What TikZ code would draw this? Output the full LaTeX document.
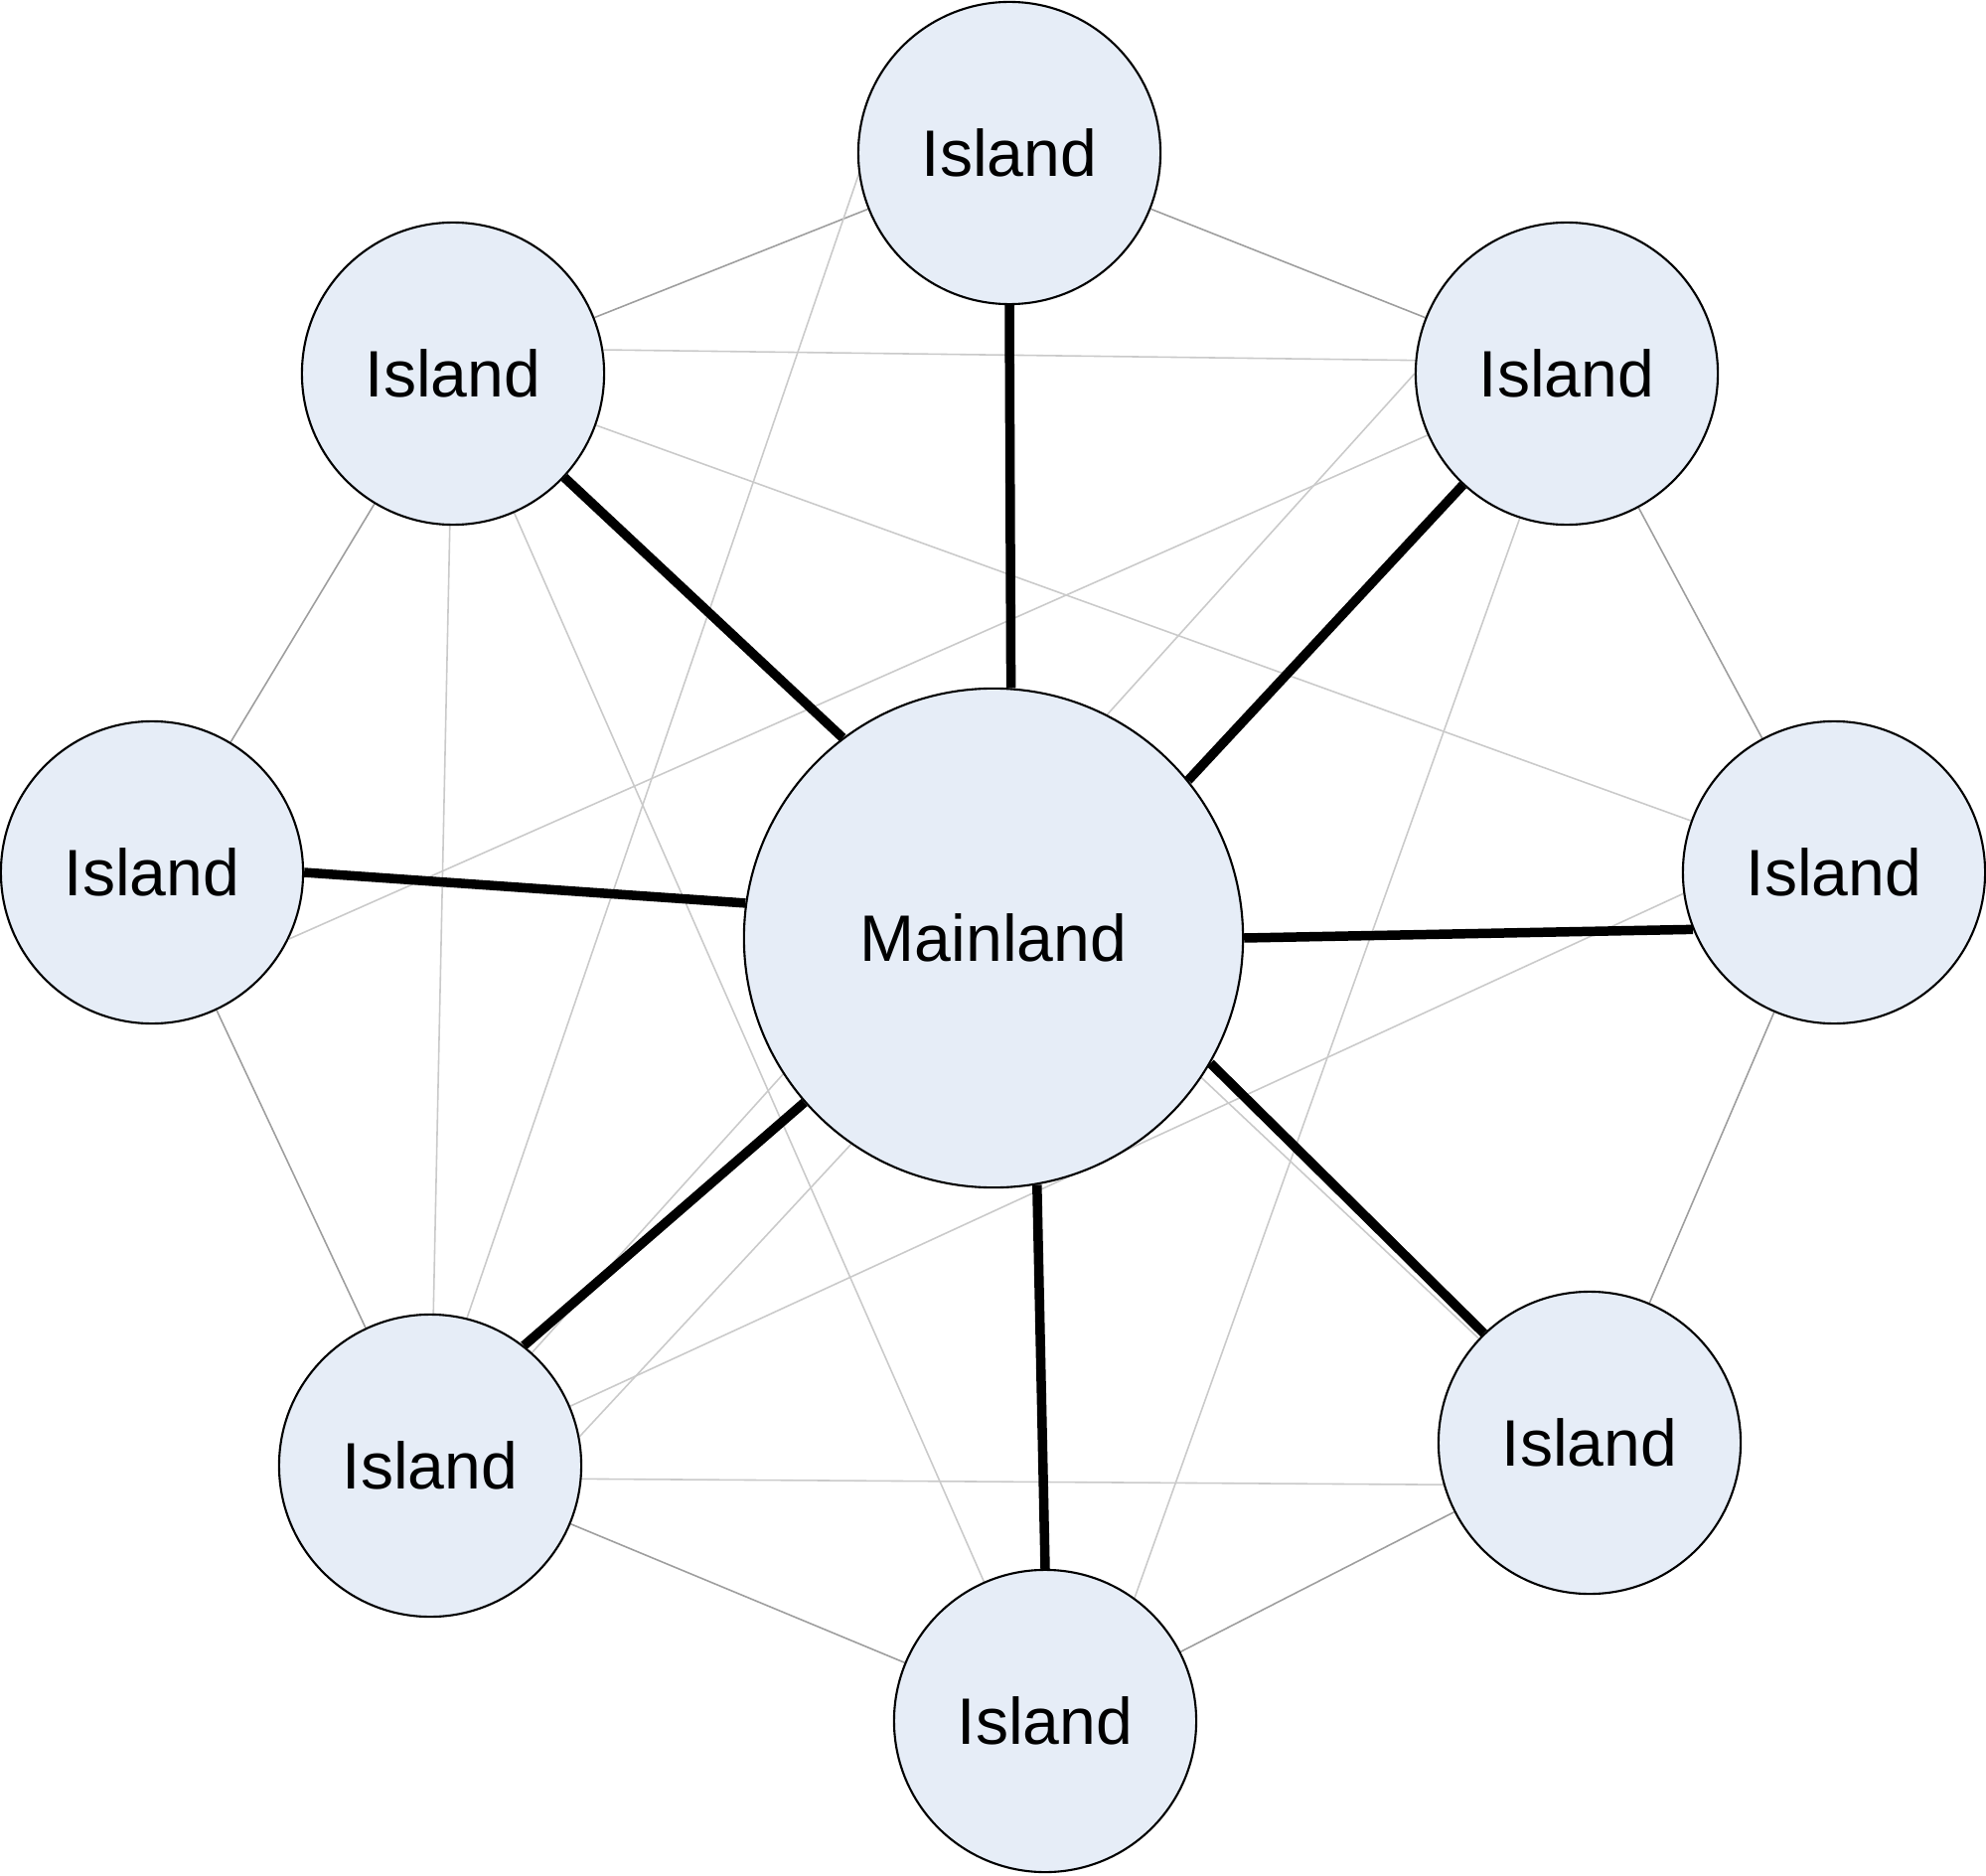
\documentclass[tikz,border=0pt]{standalone}
\usepackage{fontspec}
\setmainfont{Liberation Sans}
\usepackage{tikz}
\usetikzlibrary{backgrounds}
\definecolor{islandfill}{RGB}{230,237,247}
\definecolor{ringgray}{RGB}{158,158,158}
\definecolor{chordgray}{RGB}{202,202,202}
\tikzset{
  island/.style={circle, draw, line width=0.6pt, fill=islandfill,
    minimum size=3.04cm, inner sep=0pt, font=\fontsize{18.8}{23}\selectfont},
  mainland/.style={island, minimum size=5.02cm},
  spoke/.style={line width=2.7pt},
  ring/.style={ringgray, line width=0.45pt},
  chord/.style={chordgray, line width=0.45pt}
}

\begin{document}
\begin{tikzpicture}[x=0.01cm, y=-0.01cm]
\useasboundingbox (0,0) rectangle (1999,1888);
% mainland and islands
\node[mainland] (main) at (1000,944) {Mainland};
\node[island] (isT) at (1016,154) {Island};
\node[island] (isUL) at (456,376) {Island};
\node[island] (isUR) at (1577,376) {Island};
\node[island] (isL) at (153,878) {Island};
\node[island] (isR) at (1846,878) {Island};
\node[island] (isLL) at (433,1475) {Island};
\node[island] (isLR) at (1600,1452) {Island};
\node[island] (isB) at (1052,1732) {Island};

\begin{scope}[on background layer]
% outer ring
\draw[ring] (isT) -- (isUL);
\draw[ring] (isT) -- (isUR);
\draw[ring] (isUL) -- (isL);
\draw[ring] (isL) -- (isLL);
\draw[ring] (isLL) -- (isB);
\draw[ring] (isB) -- (isLR);
\draw[ring] (isLR) -- (isR);
\draw[ring] (isR) -- (isUR);
% chords across
\draw[chord] (isUL.9) -- (isUR.175);
\draw[chord] (isUL) -- (isR);
\draw[chord] (isUL) -- (isLL);
\draw[chord] (isUL) -- (isB);
\draw[chord] (isUL) -- (isLR);
\draw[chord] (isT.188) -- (isLL.76);
\draw[chord] (isUR.west) -- (isLL);
\draw[chord] (isUR) -- (isLL.11);
\draw[chord] (isUR) -- (isL.-26);
\draw[chord] (isR.188) -- (isLL.23);
\draw[chord] (isLL.-5) -- (isLR.196);
\draw[chord] (isB.54) -- (isUR.252);
% spokes to the mainland
\draw[spoke] (isT.south) -- (main.86);
\draw[spoke] (isUL.-43) -- (main.127);
\draw[spoke] (isUR.227) -- (main.39);
\draw[spoke] (isL.east) -- (main.172);
\draw[spoke] (isR.202) -- (main.east);
\draw[spoke] (main.-30) -- (isLR.134);
\draw[spoke] (main.-80) -- (isB.north);
\draw[spoke] (main.221) -- (isLL.52);
\end{scope}
\end{tikzpicture}
\end{document}
